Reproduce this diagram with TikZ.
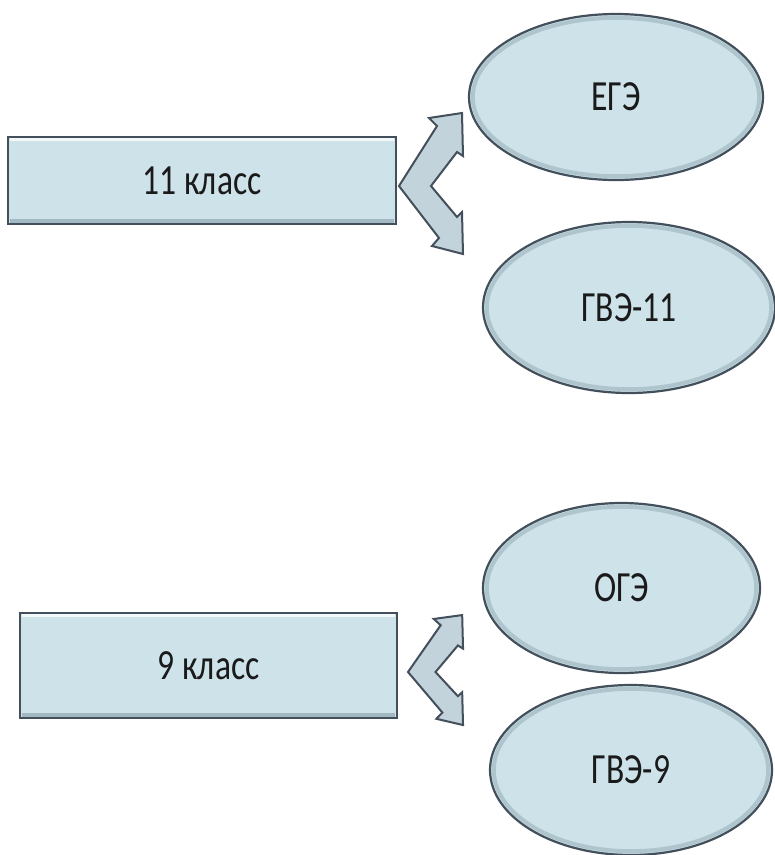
\documentclass[tikz,border=0pt]{standalone}
\usepackage{fontspec}
\newfontfamily\lab[FakeStretch=0.78]{Carlito}
\usetikzlibrary{shapes.geometric,calc}
\definecolor{base}{HTML}{CDE2E9}
\definecolor{edge}{HTML}{434F5A}
\definecolor{rimc}{HTML}{98AEB9}
\definecolor{arrowfill}{HTML}{C3D3DC}
\definecolor{txt}{HTML}{1A1A1A}
\tikzset{
  labfont/.style={font=\lab\fontsize{43}{50}\selectfont, text=txt},
  ellbox/.style={ellipse, draw=edge, line width=2.2pt, fill=base, inner sep=0pt, labfont},
  rectbox/.style={rectangle, draw=edge, line width=2.2pt, fill=base, inner sep=0pt, labfont},
  rim/.style={draw=rimc, line width=4pt, opacity=0.55},
  hilite/.style={draw=white, line width=3pt, opacity=0.75},
  lowrim/.style={draw=rimc, line width=4pt, opacity=0.8},
  chevron/.style={draw=edge, line width=2pt, fill=arrowfill, line join=miter}
}
\newcommand{\mkell}[6]{%
  \node[ellbox, minimum width=#4pt, minimum height=#5pt] (#1) at (#2,#3) {#6};
  \draw[rim] (#1.center) ellipse [x radius={(#4/2-3.8)*1pt}, y radius={(#5/2-3.8)*1pt}];
}
\newcommand{\mkrect}[6]{%
  \node[rectbox, minimum width=#4pt, minimum height=#5pt] (#1) at (#2,#3) {#6};
  \draw[hilite] ($(#1.north west)+(3,3.7)$) -- ($(#1.north east)+(-3,3.7)$);
  \draw[lowrim] ($(#1.south west)+(3,-4.2)$) -- ($(#1.south east)+(-3,-4.2)$);
}
\newcommand{\chevronshape}{%
  (0,0) -- (38,-60) -- (30,-68) -- (63,-73) -- (64,-30) -- (58,-34) -- (32,0)
  -- (58,31) -- (63,26) -- (64,68) -- (33,60) -- (40,52) -- cycle}
\begin{document}
\begin{tikzpicture}[x=1pt,y=-1pt]
\useasboundingbox (0,0) rectangle (775,855);
% 11 class group
\mkrect{k11}{202}{180.5}{388}{87}{11 класс}
\mkell{ege}{616}{97}{294}{166}{ЕГЭ}
\mkell{gve11}{629}{307.5}{292}{171}{ГВЭ-11}
\coordinate (a11) at (399,186);
\begin{scope}[shift={(a11)}]
  \draw[chevron] \chevronshape;
\end{scope}
% 9 class group
\mkrect{k9}{208.5}{665.5}{377}{105}{\raisebox{-5pt}{9 класс}}
\mkell{oge}{621.5}{588}{277}{170}{\raisebox{-3pt}{ОГЭ}}
\mkell{gve9}{631}{770}{282}{170}{ГВЭ-9}
\coordinate (a9) at (408,672);
\begin{scope}[shift={(a9)}, xscale=0.86, yscale=0.78]
  \draw[chevron] \chevronshape;
\end{scope}
\end{tikzpicture}
\end{document}
